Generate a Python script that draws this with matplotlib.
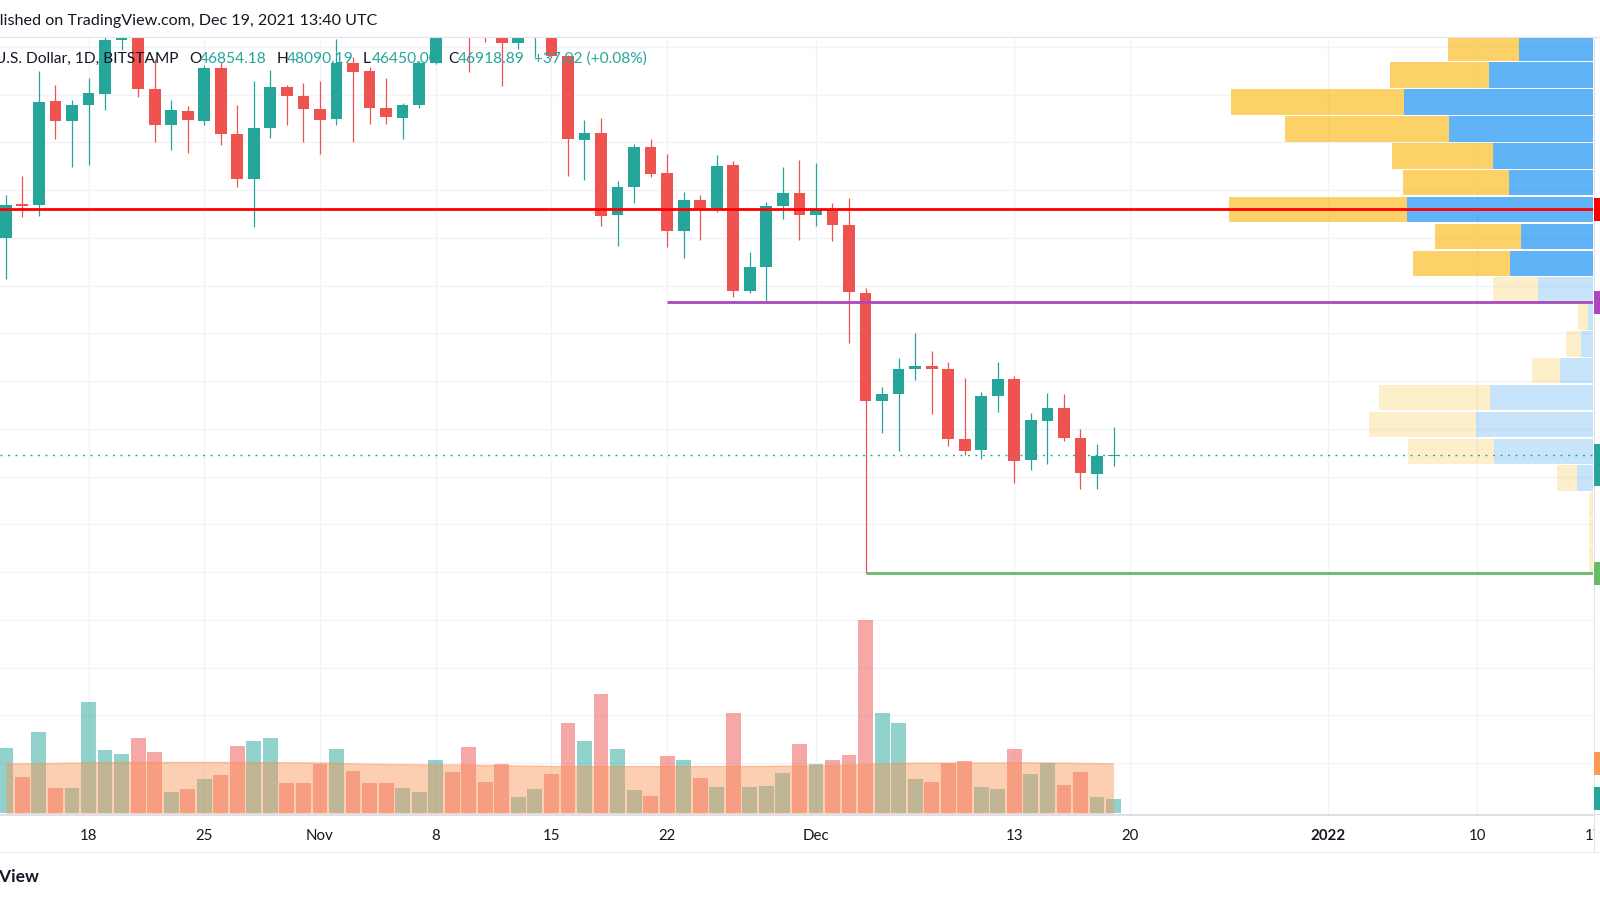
import numpy as np
import pandas as pd
import matplotlib
matplotlib.use('Agg')
import matplotlib.pyplot as plt
import matplotlib.dates as mdates
from matplotlib.patches import Rectangle
from matplotlib.lines import Line2D
from matplotlib.transforms import blended_transform_factory
from datetime import datetime

plt.rcParams['font.family'] = ['Lato', 'DejaVu Sans']

# %% data (BTC/USD daily, Bitstamp)
start_day = '2021-10-13'
opens = [55990, 57420, 57370, 61740, 60890, 61550, 62040, 64280, 66000, 62250,
         60710, 61320, 60890, 63130, 60350, 58480, 60620, 62300, 61940,
         61400, 60980, 63310, 62990, 61460, 61030, 61550, 63340, 67550, 66950,
         64900, 64800, 64180, 64560, 65480, 63620, 60120, 60410, 56950, 58140,
         59820, 58710, 56280, 57600, 57160, 59040, 53790, 54770, 57350, 57880,
         56970, 57210, 56550, 53680, 49190, 49450, 50510, 50620, 50530, 47560,
         47120, 49390, 50110, 46700, 48340, 48870, 47630, 46110, 46854.18]
highs = [57790, 58600, 62990, 62390, 61760, 62710, 64450, 66950, 66600, 63510,
         61770, 61520, 63250, 63370, 61550, 62570, 63030, 62420, 62490,
         62550, 64350, 63580, 63160, 62710, 61660, 63400, 67800, 68500, 68800,
         65600, 65450, 64900, 65500, 66350, 63650, 60950, 61020, 58400, 59940,
         60150, 59520, 57910, 57790, 59480, 59240, 55390, 57490, 58980, 59270,
         59140, 57450, 57660, 53890, 49760, 50990, 52000, 51250, 50820, 50130,
         49530, 50790, 50200, 48660, 49500, 49450, 48000, 47370, 48090.19]
lows = [54270, 56870, 56900, 60150, 58980, 59060, 61360, 63850, 61900, 60010,
        59690, 59550, 60710, 59870, 58140, 56440, 60200, 60710, 60010,
        59530, 60710, 60030, 60770, 60790, 60150, 61440, 63300, 66300, 62950,
        64210, 62360, 63930, 63580, 63550, 58600, 58420, 56500, 55660, 57460,
        58560, 55640, 55160, 55920, 57090, 53520, 53680, 53350, 56790, 55920,
        56500, 55870, 51580, 41950, 47820, 47090, 50050, 48630, 47300, 46900,
        46760, 48690, 45720, 46280, 46530, 47500, 45470, 45470, 46450.00]
closes = [57370, 57350, 61690, 60890, 61560, 62080, 64280, 66000, 62250, 60710,
          61370, 60920, 63130, 60350, 58480, 60610, 62330, 61940, 61380,
          60950, 63310, 62950, 61450, 61060, 61550, 63340, 67550, 66950, 64900,
          64800, 64180, 64560, 65480, 63620, 60150, 60390, 56900, 58140, 59800,
          58680, 56310, 57600, 57160, 59010, 53790, 54770, 57350, 57880, 56970,
          57230, 56530, 53730, 49190, 49450, 50530, 50620, 50510, 47560, 47090,
          49390, 50110, 46670, 48370, 48870, 47630, 46170, 46870, 46918.89]
volumes = [3270, 1830, 4080, 1250, 1250, 5550, 3150, 2980, 3780, 3070,
           1050, 1200, 1700, 1900, 3370, 3630, 3780, 1520, 1520,
           2470, 3230, 2100, 1500, 1520, 1250, 1080, 2650, 2070, 3330,
           1570, 2470, 820, 1220, 1970, 4500, 3620, 5970, 3200, 1170,
           880, 2870, 2650, 1770, 1330, 5030, 1330, 1380, 2020, 3470,
           2470, 2680, 2900, 9670, 5000, 4500, 1700, 1570, 2520, 2620,
           1300, 1220, 3230, 1980, 2520, 1430, 2050, 820, 720]
volume_ma = [2460, 2470, 2480, 2490, 2500,
             2520, 2530, 2540, 2540, 2540, 2540, 2540, 2540, 2540, 2540, 2530, 2530, 2520, 2520,
             2510, 2490, 2470, 2450, 2440,
             2430, 2420, 2410, 2410, 2400, 2390, 2380,
             2360, 2350, 2340, 2330, 2330, 2330, 2330, 2330, 2330, 2330, 2330, 2330, 2330,
             2340, 2340, 2340, 2350, 2360,
             2370, 2380, 2390,
             2430,
             2470, 2490, 2500, 2500, 2500, 2510, 2510, 2510,
             2520, 2520, 2510, 2500,
             2490, 2480, 2470]

# visible range volume profile, rows of 1125 from 42000 up
vp_bottom = 42000
vp_row = 1125
vp_up = [4, 3, 3, 160, 990, 1170, 1030, 330, 117, 50,
         550, 833, 720, 1857, 840, 1003, 1440, 1890, 1040, 743]
vp_down = [39, 40, 40, 197, 860, 1073, 1110, 283, 150, 100,
           450, 964, 857, 1783, 1057, 1004, 1640, 1727, 993, 710]
vp_value_area_from = 11

poc_price = 57190
support_purple = 53300
support_purple_from = '2021-11-22'
support_green = 41950
support_green_from = '2021-12-04'

tick_days = ['2021-10-18', '2021-10-25', '2021-11-01', '2021-11-08', '2021-11-15', '2021-11-22',
             '2021-12-01', '2021-12-13', '2021-12-20', '2022-01-01', '2022-01-10', '2022-01-17']
tick_labels = ['18', '25', 'Nov', '8', '15', '22', 'Dec', '13', '20', '2022', '10', '17']

UP = '#26a69a'
DOWN = '#ef5350'
TEXT = '#131722'
GRID = '#f0f3fa'
BORDER = '#e0e3eb'

# %% figure
W, H = 1600, 900
fig = plt.figure(figsize=(16, 9), dpi=100)
fig.patch.set_facecolor('white')
pane_top, pane_bot, pane_right = 36.6, 815, 1593
ax = fig.add_axes([0, 1 - pane_bot / H, pane_right / W, (pane_bot - pane_top) / H])
axv = ax.twinx()
axp = ax.twiny()
ax.set_zorder(3)
axv.set_zorder(2)
axp.set_zorder(1)
for a in (ax, axv, axp):
    a.patch.set_visible(False)
    for s in a.spines.values():
        s.set_visible(False)

x = mdates.date2num(pd.date_range(start_day, periods=len(closes)).to_pydatetime())
dec1 = mdates.date2num(datetime(2021, 12, 1))
ax.set_xlim(dec1 - 49.353, dec1 + 46.98)
ax.set_ylim(31833, 64430)
axv.set_ylim(-85, 38835)
axp.set_xlim(15930, 0)

o = np.array(opens)
c = np.array(closes)
hi = np.array(highs)
lo = np.array(lows)
is_up = c >= o
colors = np.where(is_up, UP, DOWN)

# %% grid (on the bottom axes)
for p in range(34000, 64001, 2000):
    axp.axhline(p, color=GRID, lw=1.0, zorder=0)
ticks_x = mdates.date2num([datetime.strptime(d, '%Y-%m-%d') for d in tick_days])
axp.vlines(ticks_x, 0, 1, transform=ax.get_xaxis_transform(), color=GRID, lw=1.0, zorder=0)

# %% volume profile
rows = vp_bottom + vp_row * (np.arange(len(vp_up)) + 0.5)
in_va = np.arange(len(vp_up)) >= vp_value_area_from
up_alpha = np.where(in_va, 0.72, 0.25)
for yc, u, d, a in zip(rows, vp_up, vp_down, up_alpha):
    axp.barh(yc, u, left=0, height=vp_row * 0.95, color='#2196f3', alpha=a, lw=0, zorder=2)
    axp.barh(yc, d, left=u, height=vp_row * 0.95, color='#fbc02d', alpha=a, lw=0, zorder=2)

# %% volume + MA
vcol = [(38/255, 166/255, 154/255, 0.5) if u else (239/255, 83/255, 80/255, 0.5) for u in is_up]
axv.bar(x, volumes, width=0.9, color=vcol, lw=0, zorder=1)
ma_col = (250/255, 148/255, 85/255)
axv.fill_between(x, 0, volume_ma, color=ma_col, alpha=0.45, lw=0, zorder=2)
axv.plot(x, volume_ma, color=ma_col, alpha=0.6, lw=1, zorder=3)

# %% candles
body_lo = np.minimum(o, c)
body_h = np.maximum(np.abs(c - o), 45)
ax.vlines(x, lo, hi, color=colors, lw=0.9, zorder=3)
ax.bar(x, body_h, bottom=body_lo, width=0.71, color=colors, lw=0, zorder=4)

# %% lines
ax.axhline(poc_price, color='#ff0000', lw=2.0, zorder=5)
px = mdates.date2num(datetime.strptime(support_purple_from, '%Y-%m-%d'))
ax.hlines(support_purple, px, ax.get_xlim()[1], color='#ab47bc', lw=2.0, zorder=5)
gx = mdates.date2num(datetime.strptime(support_green_from, '%Y-%m-%d'))
ax.hlines(support_green, gx, ax.get_xlim()[1], color='#66bb6a', lw=2.0, zorder=5)
ax.axhline(closes[-1], color=UP, lw=1.0, linestyle=(0, (1.4, 4)), zorder=5)

# %% axes ticks
ax.set_xticks(ticks_x)
ax.set_xticklabels(tick_labels, fontsize=10.8, color=TEXT)
for t in ax.get_xticklabels():
    if t.get_text() == '2022':
        t.set_fontweight('bold')
ax.tick_params(axis='x', length=0, pad=9.8)
ax.set_yticks([])
axv.set_yticks([])
axp.set_xticks([])
axp.tick_params(axis='both', length=0)

# %% frame lines
def fline(x0, x1, y0, y1, color, lw, z=8):
    fig.add_artist(Line2D([x0 / W, x1 / W], [1 - y0 / H, 1 - y1 / H], color=color, lw=lw, zorder=z))

fig.add_artist(Rectangle(((pane_right + 0.5) / W, 1 - 852 / H), (W - pane_right) / W, (852 - pane_bot) / H,
                         facecolor='white', edgecolor='none', zorder=9))
fline(0, W, pane_top, pane_top, BORDER, 0.8)
fline(0, W, pane_bot, pane_bot, '#d6d9e0', 1.2)
fline(0, W, 852, 852, '#eceef2', 0.8)
fline(pane_right + 0.5, pane_right + 0.5, pane_top, 852, BORDER, 0.8, z=10)

# price scale badges at the right edge (mostly cut off)
trp = blended_transform_factory(fig.transFigure, ax.transData)
trv = blended_transform_factory(fig.transFigure, axv.transData)
k = 0.02388  # px per USD
bx = (pane_right + 1) / W
bw = (W - pane_right) / W
for price, col, above, below in [(poc_price, '#ff0000', 11.5, 11.5),
                                 (support_purple, '#ab47bc', 11.5, 11.5),
                                 (closes[-1], UP, 11, 31),
                                 (support_green, '#66bb6a', 11.5, 11.5)]:
    fig.add_artist(Rectangle((bx, price - below / k), bw, (above + below) / k,
                             transform=trp, facecolor=col, edgecolor='none', zorder=11))
for val, col in [(volume_ma[-1], '#fb9a55'), (volumes[-1], UP)]:
    fig.add_artist(Rectangle((bx, val - 11.5 * 50), bw, 23 * 50,
                             transform=trv, facecolor=col, edgecolor='none', zorder=11))

# %% texts (header and legend start off the left edge, like the screenshot)
fig.text(377 / W, 1 - 21.5 / H, 'Published on TradingView.com, Dec 19, 2021 13:40 UTC',
         ha='right', va='center', fontsize=11.6, color=TEXT)
ly = 1 - 59 / H
fig.text(179 / W, ly, 'Bitcoin / U.S. Dollar, 1D, BITSTAMP', ha='right', va='center',
         fontsize=11.2, color=TEXT, zorder=12)
for xp, s, col, z in [(189.5, 'O', TEXT, 12), (200, '46854.18', UP, 12),
                      (276.5, 'H', TEXT, 12), (287, '48090.19', UP, 12),
                      (363, 'L', TEXT, 12), (371.5, '46450.00', UP, 1),
                      (448, 'C', TEXT, 12), (457.5, '46918.89', UP, 12),
                      (534, '+37.02 (+0.08%)', UP, 12)]:
    fig.text(xp / W, ly, s, ha='left', va='center', fontsize=11.2, color=col, zorder=z)
fig.text(40 / W, 1 - 877 / H, 'TradingView', ha='right', va='center', fontsize=12.5,
         fontweight='bold', color=TEXT)

fig.savefig('out.png', dpi=100, facecolor='white')
